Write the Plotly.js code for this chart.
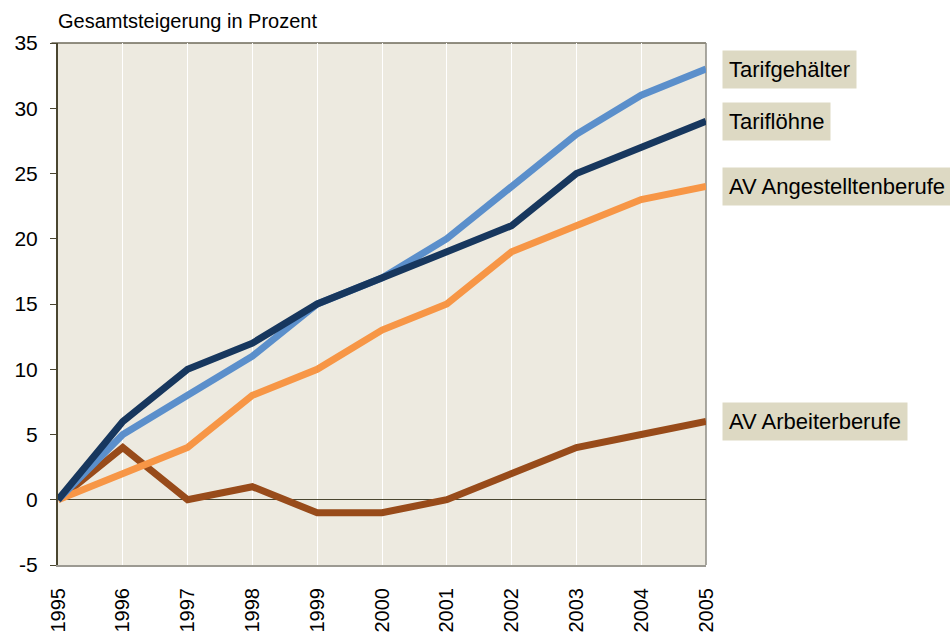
<!DOCTYPE html>
<html>
<head>
<meta charset="utf-8">
<script src="https://cdn.plot.ly/plotly-3.0.1.min.js"></script>
<style>html,body{margin:0;padding:0;background:#fff;}#chart{width:950px;height:634px;}</style>
</head>
<body>
<div id="chart"></div>
<script>
const years = [1995,1996,1997,1998,1999,2000,2001,2002,2003,2004,2005];
const tarifgehaelter = [0,5,8,11,15,17,20,24,28,31,33];
const tarifloehne = [0,6,10,12,15,17,19,21,25,27,29];
const avAngestellte = [0,2,4,8,10,13,15,19,21,23,24];
const avArbeiter = [0,4,0,1,-1,-1,0,2,4,5,6];
const seriesNames = ["Tarifgehälter","Tariflöhne","AV Angestelltenberufe","AV Arbeiterberufe"];
const seriesData = [tarifgehaelter, tarifloehne, avAngestellte, avArbeiter];
const colors = ["#5B8FCB","#17375E","#F79646","#984B1A"];
const yTickVals = [-5,0,5,10,15,20,25,30,35];
const yTickText = ["-5","0","5","10","15","20","25","30","35"];
const yTitle = "Gesamtsteigerung in Prozent";

const order = [3,2,0,1];
const traces = order.map(i => ({
  x: years, y: seriesData[i], type: 'scatter', mode: 'lines', name: seriesNames[i],
  line: {color: colors[i], width: 7}, cliponaxis: false, hoverinfo: 'skip'
}));

const annotations = seriesNames.map((n,i) => ({
  text: n, xref: 'paper', x: 1.0247, xanchor: 'left', yref: 'y', y: seriesData[i][seriesData[i].length-1],
  yanchor: 'middle', showarrow: false, bgcolor: '#DDD9C3', borderpad: 6,
  font: {family: 'Liberation Sans, Arial, sans-serif', size: 22, color: '#000'}
}));
annotations.push({
  text: yTitle, xref: 'paper', yref: 'paper', x: -0.003, y: 1.0, xanchor: 'left', yanchor: 'bottom', yshift: 9,
  showarrow: false, font: {family: 'Liberation Sans, Arial, sans-serif', size: 20, color: '#000'}
});

const layout = {
  width: 950, height: 634,
  margin: {l: 58, r: 244, t: 43, b: 69},
  paper_bgcolor: '#fff', plot_bgcolor: '#EDEAE0',
  showlegend: false,
  font: {family: 'Liberation Sans, Arial, sans-serif', size: 21, color: '#000'},
  xaxis: {
    range: [1995, 2005], tickmode: 'array', tickvals: years, ticktext: years.map(String),
    tickangle: -90, showgrid: true, gridcolor: '#FFFFFF', gridwidth: 1,
    zeroline: false, showline: true, linecolor: '#9C9A92', linewidth: 2, mirror: false,
    ticks: '', ticklabelstandoff: 13, tickfont: {size: 20}
  },
  yaxis: {
    range: [-5, 35], tickmode: 'array', tickvals: yTickVals, ticktext: yTickText, showgrid: false,
    zeroline: true, zerolinecolor: '#4A4630', zerolinewidth: 1,
    showline: true, linecolor: '#4A4630', linewidth: 2,
    ticks: 'outside', ticklen: 6, tickcolor: '#4A4630', tickwidth: 1,
    ticklabelstandoff: 8, tickfont: {size: 21}
  },
  shapes: [
    {type: 'line', xref: 'paper', yref: 'paper', x0: -0.01, x1: 1, y0: 1, y1: 1, line: {color: '#6E6A5A', width: 1.5}, layer: 'below'},
    {type: 'line', xref: 'paper', yref: 'paper', x0: 1, x1: 1, y0: 0, y1: 1, line: {color: '#8E8C84', width: 1.5}, layer: 'below'}
  ],
  annotations: annotations
};

Plotly.newPlot('chart', traces, layout, {staticPlot: true});
</script>
</body>
</html>
